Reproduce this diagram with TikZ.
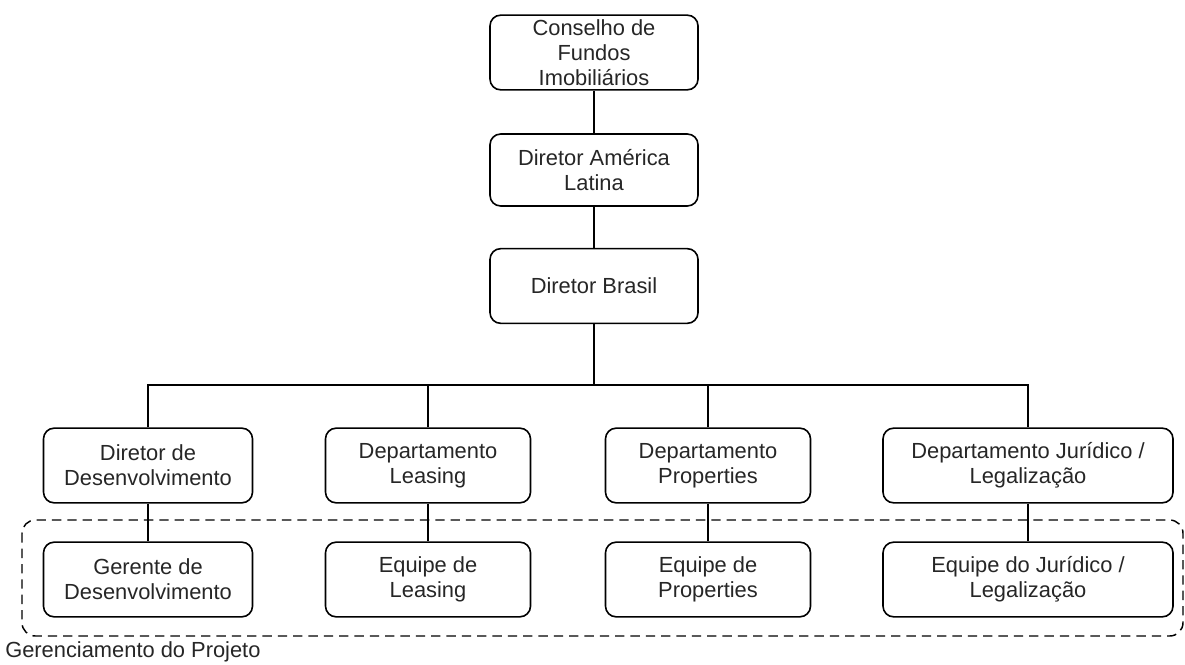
\documentclass[tikz,border=0pt]{standalone}
\usepackage{fontspec}
\setmainfont{Liberation Sans}
\begin{document}
\begin{tikzpicture}[x=0.75pt,y=-0.75pt,
  orgbox/.style={draw=black, line width=1.2pt, rounded corners=8pt, align=center,
    minimum height=56pt, inner sep=0pt, text=black!85,
    font=\fontsize{16.4}{18.8}\selectfont},
  link/.style={draw=black, line width=1.1pt},
  group/.style={draw=black, line width=1.1pt, dashed, dash pattern=on 7pt off 4.5pt, rounded corners=10pt}]
  \useasboundingbox (0,0) rectangle (1185,664);

  % top of the chain
  \node[orgbox, minimum width=156pt] (cons) at (594,52.5) {Conselho de\\Fundos\\Imobiliários};
  \node[orgbox, minimum width=156pt, minimum height=54pt] (amer) at (594,170) {Diretor América\\Latina};
  \node[orgbox, minimum width=156pt] (bras) at (594,286) {Diretor Brasil};

  % departments
  \node[orgbox, minimum width=156.75pt] (dev)  at (148,465.5)  {Diretor de\\Desenvolvimento};
  \node[orgbox, minimum width=153.75pt] (lea)  at (428,465.5)  {Departamento\\Leasing};
  \node[orgbox, minimum width=153.75pt] (prop) at (708,465.5)  {Departamento\\Properties};
  \node[orgbox, minimum width=217.5pt] (jur)  at (1028,465.5) {Departamento Jurídico /\\Legalização};

  % teams
  \node[orgbox, minimum width=156.75pt] (gdev)  at (148,579.5)  {Gerente de\\Desenvolvimento};
  \node[orgbox, minimum width=153.75pt] (glea)  at (428,579.5)  {Equipe de\\Leasing};
  \node[orgbox, minimum width=153.75pt] (gprop) at (708,579.5)  {Equipe de\\Properties};
  \node[orgbox, minimum width=217.5pt] (gjur)  at (1028,579.5) {Equipe do Jurídico /\\Legalização};

  % vertical chain
  \draw[link] (cons) -- (amer);
  \draw[link] (amer) -- (bras);

  % branching bar
  \coordinate (bar) at (594,385);
  \draw[link] (bras.south) -- (bar);
  \draw[link] (dev.north) |- (bar) -| (jur.north);
  \draw[link] (lea.north) -- (lea.north |- bar);
  \draw[link] (prop.north) -- (prop.north |- bar);

  % department to team
  \draw[link] (dev) -- (gdev);
  \draw[link] (lea) -- (glea);
  \draw[link] (prop) -- (gprop);
  \draw[link] (jur) -- (gjur);

  % project management group
  \draw[group] (22,520) rectangle (1183,636);
  \node[anchor=west, inner sep=0pt, text=black!85, font=\fontsize{16.4}{18.8}\selectfont] (proj) at (5,652) {Gerenciamento do Projeto};
\end{tikzpicture}
\end{document}
